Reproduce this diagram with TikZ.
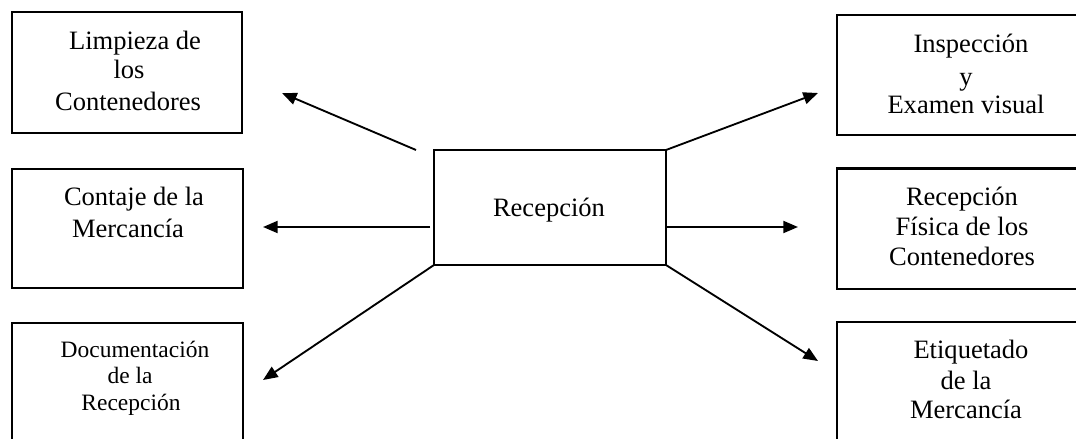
\documentclass[tikz,border=0pt]{standalone}
\usepackage{fontspec}
\setmainfont{Liberation Serif}
\usetikzlibrary{arrows.meta,calc}
\begin{document}
\begin{tikzpicture}[x=0.75pt,y=-0.75pt,
  box/.style={draw, line width=2pt, rectangle, inner sep=0pt, outer sep=0pt},
  lbl/.style={inner sep=0pt, anchor=base, font=\fontsize{19.9pt}{23pt}\selectfont},
  slbl/.style={lbl, font=\fontsize{17.6pt}{21pt}\selectfont},
  conn/.style={line width=1.4pt, -{Triangle[length=11pt,width=9pt]}}]
\clip (0,0) rectangle (1076,439);
% boxes
\node[box, minimum width=172.5pt, minimum height=90.75pt] (lt) at (127,72.5) {};
\node[box, minimum width=173.25pt, minimum height=89.25pt] (lm) at (127.5,228.5) {};
\node[box, minimum width=173.25pt, minimum height=102.75pt] (lb) at (127.5,391.5) {};
\node[box, minimum width=197.25pt, minimum height=90pt] (rt) at (968.5,75) {};
\node[box, minimum width=197.25pt, minimum height=90.4pt] (rm) at (968.5,228.75) {};
\node[box, minimum width=197.25pt, minimum height=103.5pt] (rb) at (968.5,391) {};
\node[box, minimum width=174pt, minimum height=86.25pt] (rec) at (550,207.5) {};
% texts
\node[lbl] (lt1) at (135,49) {Limpieza de};
\node[lbl] (lt2) at (129,79) {los};
\node[lbl] (lt3) at (128,110) {Contenedores};
\node[lbl] (lm1) at (134,205) {Contaje de la};
\node[lbl] (lm2) at (128,237) {Mercancía};
\node[slbl] (lb1) at (135,357) {Documentación};
\node[slbl] (lb2) at (130,383) {de la};
\node[slbl] (lb3) at (131,410) {Recepción};
\node[lbl] (rt1) at (971,52) {Inspección};
\node[lbl] (rt2) at (966,85) {y};
\node[lbl] (rt3) at (966,113) {Examen visual};
\node[lbl] (rm1) at (962,205) {Recepción};
\node[lbl] (rm2) at (962,235) {Física de los};
\node[lbl] (rm3) at (962,265) {Contenedores};
\node[lbl] (rb1) at (971,358) {Etiquetado};
\node[lbl] (rb2) at (966,389) {de la};
\node[lbl] (rb3) at (966,418) {Mercancía};
\node[lbl] (rec1) at (549,216) {Recepción};
% arrow tips
\coordinate (tul) at (282,93);
\coordinate (tur) at (818,93);
\coordinate (tml) at (263,227);
\coordinate (tmr) at (798,227);
\coordinate (tll) at (263,380);
\coordinate (tlr) at (818,361);
% connectors
\draw[conn] ($(rec.north west)+(-18,0)$) -- (tul);
\draw[conn] (rec.north east) -- (tur);
\draw[conn] ($(rec.west |- tml)+(-4,0)$) -- (tml);
\draw[conn] (rec.east |- tmr) -- (tmr);
\draw[conn] (rec.south west) -- (tll);
\draw[conn] (rec.south east) -- (tlr);
\end{tikzpicture}
\end{document}
